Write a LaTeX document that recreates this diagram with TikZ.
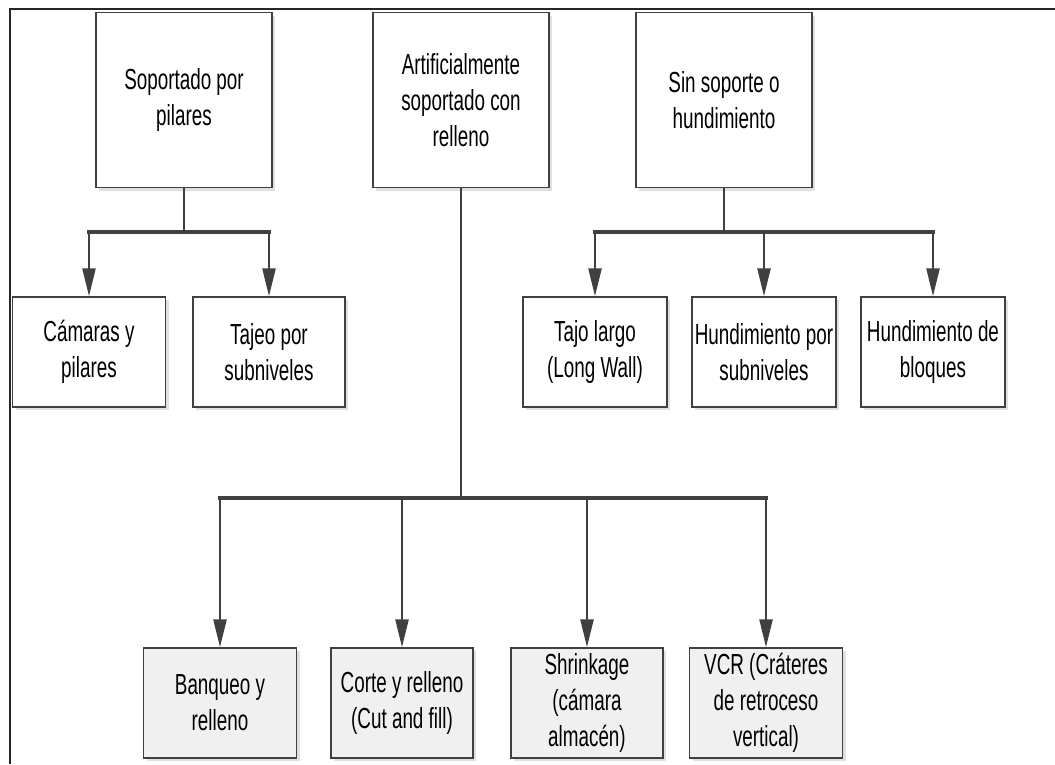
\documentclass[tikz,border=0pt]{standalone}
\usepackage{fontspec}
\setmainfont{Liberation Sans}[FakeStretch=0.65]
\usetikzlibrary{arrows.meta,shadows}

\definecolor{linegray}{HTML}{404040}
\definecolor{boxgray}{HTML}{F0F0F0}
\newcommand\boxfont{\fontsize{29}{36}\selectfont}

\tikzset{
  box/.style={draw=linegray, line width=1.5pt, fill=white, align=center,
    inner sep=0pt, font=\boxfont,
    drop shadow={shadow xshift=3pt, shadow yshift=-3pt, fill=black!12, opacity=1}},
  graybox/.style={box, fill=boxgray},
  frame/.style={draw=black!85, line width=2pt},
  stem/.style={draw=linegray, line width=2pt},
  bar/.style={draw=linegray, line width=3.5pt, line cap=rect},
  arr/.style={draw=linegray, line width=2.5pt, -{Triangle[length=28pt,width=13pt]}}
}

\begin{document}
\begin{tikzpicture}[x=1pt,y=-1pt]
  \useasboundingbox (0,0) rectangle (1055,764);

  % outer frame (top and left only)
  \coordinate (tr) at (1055,9);
  \coordinate (tl) at (10,9);
  \coordinate (bl) at (10,764);
  \draw[frame] (tr) -- (tl) -- (bl);

  \def \Top {
    b1/184/{Soportado por\\pilares},
    b2/461/{Artificialmente\\soportado con\\relleno},
    b3/724/{Sin soporte o\\hundimiento}}
  \def \Mid {
    c1/89/153/{Cámaras y\\pilares},
    c2/269/152/{Tajeo por\\subniveles},
    d1/595/144/{Tajo largo\\(Long Wall)},
    d2/764/144/{Hundimiento por\\subniveles},
    d3/933/144/{Hundimiento de\\bloques}}
  \def \Low {
    e1/220/153/{Banqueo y\\relleno},
    e2/402/142/{Corte y relleno\\(Cut and fill)},
    e3/587/152/{Shrinkage\\(cámara\\almacén)},
    e4/766/153/{VCR (Cráteres\\de retroceso\\vertical)}}

  \foreach \id / \x / \t in \Top {
    \node[box, minimum width=176pt, minimum height=175pt] (\id) at (\x, 100) {\t};
  }
  \foreach \id / \x / \w / \t in \Mid {
    \node[box, minimum width=\w pt, minimum height=110pt] (\id) at (\x, 352) {\t};
  }
  \foreach \id / \x / \w / \t in \Low {
    \node[graybox, minimum width=\w pt, minimum height=110pt] (\id) at (\x, 703) {\t};
  }

  % soportado por pilares
  \draw[stem] (b1.south) -- (b1.south |- 0,232) coordinate (j1);
  \draw[bar] (c1.north |- j1) -- (c2.north |- j1);
  \foreach \id in {c1,c2} {
    \draw[arr] (\id.north |- j1) -- (\id.north);
  }

  % sin soporte
  \draw[stem] (b3.south) -- (b3.south |- 0,232) coordinate (j3);
  \draw[bar] (d1.north |- j3) -- (d3.north |- j3);
  \foreach \id in {d1,d2,d3} {
    \draw[arr] (\id.north |- j3) -- (\id.north);
  }

  % relleno
  \draw[stem] (b2.south) -- (b2.south |- 0,498) coordinate (j2);
  \draw[bar] (e1.north |- j2) -- (e4.north |- j2);
  \foreach \id in {e1,e2,e3,e4} {
    \draw[arr] (\id.north |- j2) -- (\id.north);
  }
\end{tikzpicture}
\end{document}
